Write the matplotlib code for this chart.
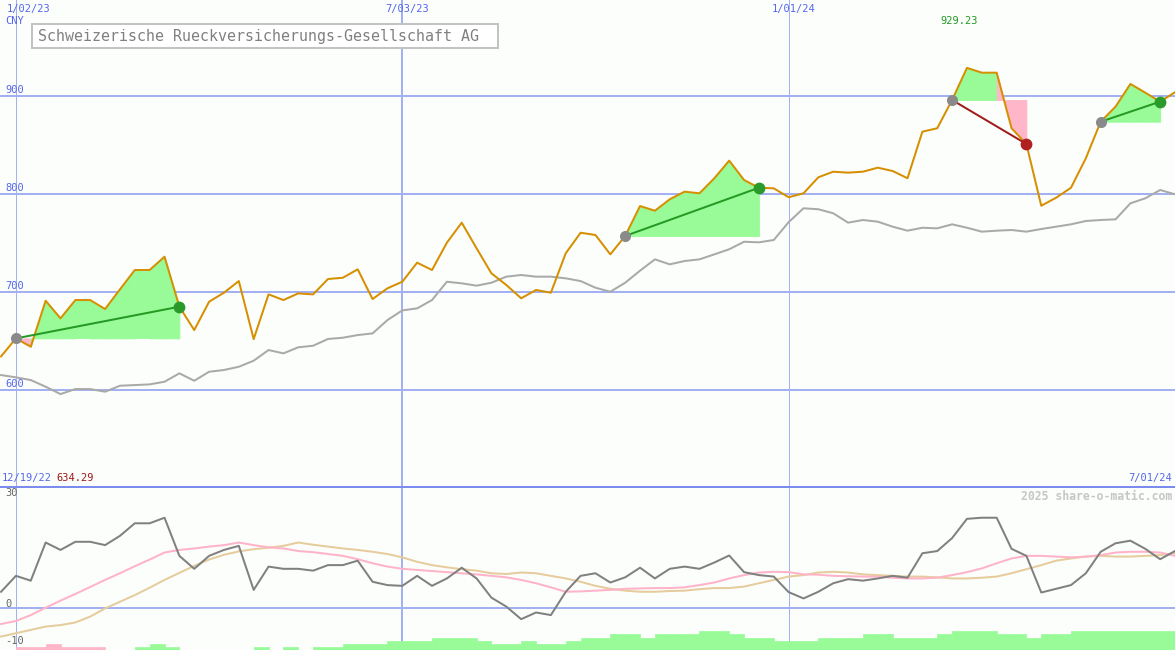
import matplotlib
matplotlib.use('Agg')
import matplotlib.pyplot as plt
import matplotlib.dates as mdates
from matplotlib.patches import Rectangle
import numpy as np
import pandas as pd

# weekly closes
weeks = pd.date_range('2022-12-26', periods=80, freq='7D')

price = [634.29, 652.7, 644.2, 691.2, 673.2, 691.9, 691.9, 682.7, 702.8, 722.6,
         722.6, 736.2, 685.1, 661.2, 690.2, 699.4, 711.3, 652.0, 697.7, 691.9,
         698.7, 697.7, 713.4, 714.7, 723.3, 692.9, 703.9, 710.6, 730.1, 722.6,
         750.5, 771.0, 744.8, 719.2, 707.3, 693.7, 702.2, 699.4, 739.7, 760.7,
         758.4, 738.6, 757.4, 788.0, 783.2, 794.9, 802.7, 801.0, 816.4, 834.4,
         814.6, 806.7, 806.1, 797.0, 801.0, 817.4, 823.1, 822.1, 823.1, 827.2,
         823.8, 816.4, 864.0, 867.5, 896.4, 929.23, 924.3, 924.3, 867.5, 851.4,
         788.3, 796.5, 806.7, 836.8, 874.2, 889.6, 912.8, 903.9, 894.7, 904.3]

bench = [615.2, 612.9, 610.1, 603.3, 595.8, 600.9, 600.9, 598.2, 604.3, 605.0,
         605.7, 608.4, 617.0, 609.4, 618.6, 620.4, 623.7, 629.9, 640.8, 637.4,
         643.6, 645.2, 652.1, 653.4, 656.1, 657.8, 671.4, 681.3, 683.4, 691.9,
         710.6, 709.0, 706.6, 709.6, 715.8, 717.5, 715.8, 715.8, 714.1, 711.3,
         704.5, 700.4, 709.6, 721.9, 733.5, 728.4, 731.8, 733.5, 738.6, 743.8,
         751.5, 750.9, 753.3, 771.5, 785.7, 784.7, 780.6, 771.0, 773.7, 772.0,
         766.9, 762.8, 765.8, 765.2, 769.3, 765.8, 761.8, 762.8, 763.5, 761.8,
         764.5, 766.9, 769.3, 772.7, 773.7, 774.4, 790.8, 795.9, 804.4, 800.0]

osc = [4.3, 8.6, 7.3, 17.6, 15.6, 17.8, 17.8, 16.9, 19.4, 22.8,
       22.8, 24.3, 14.0, 10.5, 14.0, 15.6, 16.7, 4.8, 11.1, 10.5,
       10.5, 10.0, 11.5, 11.5, 12.7, 7.0, 6.1, 5.9, 8.6, 5.9,
       7.9, 10.8, 7.9, 2.7, 0.3, -3.1, -1.3, -2.0, 4.3, 8.6,
       9.3, 6.8, 8.2, 10.8, 7.9, 10.5, 11.1, 10.5, 12.2, 14.1,
       9.6, 8.8, 8.4, 4.2, 2.5, 4.3, 6.6, 7.7, 7.3, 7.9,
       8.6, 8.1, 14.7, 15.3, 18.8, 24.0, 24.3, 24.3, 15.9, 14.0,
       4.1, 5.1, 6.1, 9.3, 15.1, 17.4, 18.1, 15.9, 13.1, 15.3]

osc_fast = [-4.4, -3.6, -2.0, 0.0, 1.9, 3.7, 5.6, 7.5, 9.3, 11.2,
            13.0, 14.9, 15.6, 16.0, 16.5, 16.9, 17.6, 16.9, 16.3, 16.0,
            15.3, 15.0, 14.5, 14.0, 13.1, 12.0, 11.1, 10.5, 10.2, 9.9,
            9.6, 9.3, 9.0, 8.6, 8.2, 7.5, 6.6, 5.5, 4.3, 4.4,
            4.6, 4.8, 5.1, 5.2, 5.3, 5.3, 5.5, 6.1, 6.8, 7.9,
            8.8, 9.5, 9.7, 9.6, 9.0, 8.9, 8.6, 8.5, 8.4, 8.4,
            8.1, 7.9, 7.9, 8.1, 8.8, 9.6, 10.6, 12.0, 13.3, 14.0,
            14.0, 13.8, 13.6, 13.8, 14.2, 14.9, 15.1, 15.1, 14.9, 14.0]

osc_slow = [-7.8, -6.9, -6.0, -5.1, -4.7, -4.0, -2.4, -0.2, 1.6, 3.4,
            5.4, 7.5, 9.4, 11.3, 13.0, 14.3, 15.2, 15.8, 16.2, 16.7,
            17.6, 17.0, 16.5, 16.0, 15.6, 15.1, 14.5, 13.6, 12.4, 11.5,
            10.9, 10.4, 10.0, 9.3, 9.1, 9.5, 9.3, 8.6, 7.9, 7.0,
            5.9, 5.1, 4.6, 4.3, 4.3, 4.5, 4.6, 5.0, 5.3, 5.3,
            5.7, 6.6, 7.5, 8.4, 8.8, 9.5, 9.7, 9.5, 9.0, 8.8,
            8.6, 8.4, 8.4, 8.2, 7.9, 7.9, 8.1, 8.4, 9.3, 10.4,
            11.5, 12.7, 13.3, 13.8, 14.0, 13.8, 13.8, 14.0, 14.2, 14.7]

strength = [0, -1, -1, -2, -1, -1, -1, 0, 0, 1,
            2, 1, 0, 0, 0, 0, 0, 1, 0, 1,
            0, 1, 1, 2, 2, 2, 3, 3, 3, 4,
            4, 4, 3, 2, 2, 3, 2, 2, 3, 4,
            4, 5, 5, 4, 5, 5, 5, 6, 6, 5,
            4, 4, 3, 3, 3, 4, 4, 4, 5, 5,
            4, 4, 4, 5, 6, 6, 6, 5, 5, 4,
            5, 5, 6, 6, 6, 6, 6, 6, 6, 6]

# (entry week, exit week)
trades = [(1, 12), (42, 51), (64, 69), (74, 78)]

grid_dates = pd.to_datetime(['2023-01-02', '2023-07-03', '2024-01-01'])
grid_labels = ['1/02/23', '7/03/23', '1/01/24']
grid_px = [1, 2, 1]
price_ticks = [600, 700, 800, 900]
osc_ticks = [30, 0, -10]

title = 'Schweizerische Rueckversicherungs-Gesellschaft AG'
currency = 'CNY'
start_label = '12/19/22'
end_label = '7/01/24'
credit = '2025 share-o-matic.com'

bg = '#fbfefb'
grid_c = '#a3b1f2'
axis_blue = '#5566ee'
mono = 'DejaVu Sans Mono'
PX = 0.72  # points per pixel at dpi 100

fig = plt.figure(figsize=(11.75, 6.5), dpi=100)
fig.patch.set_facecolor(bg)
split = 163 / 650
ax = fig.add_axes([0, split, 1, 1 - split])
axl = fig.add_axes([0, 0, 1, split], sharex=ax)
for a in (ax, axl):
    a.set_facecolor(bg)
    a.set_xticks([])
    a.set_yticks([])
    for s in a.spines.values():
        s.set_visible(False)

x0 = weeks[0] - pd.Timedelta(hours=12)
ax.set_xlim(x0, weeks[-1])
ax.set_ylim(500.8, 998.6)
axl.set_ylim(-11.43, 32.6)

# price panel
for v in price_ticks:
    ax.axhline(v, color=grid_c, lw=2 * PX, zorder=1)
    ax.annotate(str(v), xy=(0, v), xycoords=('axes fraction', 'data'),
                xytext=(5, 1), textcoords='offset pixels', ha='left', va='bottom',
                color=axis_blue, fontsize=7.5, family=mono)
for d, w in zip(grid_dates, grid_px):
    ax.axvline(d, color=grid_c, lw=w * PX, zorder=1)
    axl.axvline(d, color=grid_c, lw=w * PX, zorder=1)

ax.plot(weeks, bench, color='#a9a9a9', lw=2 * PX, zorder=2)

# gain / loss area of each trade, coloured segment by segment
for i, j in trades:
    entry = price[i]
    for k in range(i, j):
        c = '#98fb98' if price[k + 1] >= entry else '#ffb6c8'
        ax.fill_between(weeks[k:k + 2], price[k:k + 2], entry, facecolor=c,
                        edgecolor=c, lw=0.6, zorder=3)

ax.plot(weeks, price, color='#d68f00', lw=2 * PX, zorder=4)

for i, j in trades:
    win = price[j] >= price[i]
    lc = '#249a24' if win else '#a01c1c'
    ax.plot([weeks[i], weeks[j]], [price[i], price[j]], color=lc, lw=2 * PX, zorder=5)
    ax.plot(weeks[i], price[i], 'o', ms=8, color='#8a8a8a', mec='none', zorder=6)
    ax.plot(weeks[j], price[j], 'o', ms=8.5, color='#2a9a2a' if win else '#b02020',
            mec='none', zorder=6)

# labels on price panel
fig.canvas.draw()
for d, lab in zip(grid_dates, grid_labels):
    px = ax.transData.transform((mdates.date2num(d), 0))[0]
    dx = max(-17, 7 - px)
    ax.annotate(lab, xy=(d, 1), xycoords=('data', 'axes fraction'),
                xytext=(dx, -9), textcoords='offset pixels', ha='left', va='center',
                color=axis_blue, fontsize=7.5, family=mono)
ax.annotate(currency, xy=(0, 1), xycoords='axes fraction', xytext=(5, -21),
            textcoords='offset pixels', ha='left', va='center',
            color=axis_blue, fontsize=7.5, family=mono)

imax = int(np.argmax(price))
ax.annotate(f'{price[imax]:.2f}', xy=(weeks[imax], 1), xycoords=('data', 'axes fraction'),
            xytext=(-8, -21), textcoords='offset pixels', ha='center', va='center',
            color='#229922', fontsize=7.5, family=mono)

ax.annotate(start_label, xy=(0, 0), xycoords='axes fraction', xytext=(2, 9),
            textcoords='offset pixels', ha='left', va='center',
            color=axis_blue, fontsize=7.5, family=mono)
ax.annotate(f'{min(price):.2f}', xy=(0, 0), xycoords='axes fraction', xytext=(56, 9),
            textcoords='offset pixels', ha='left', va='center',
            color='#a01818', fontsize=7.5, family=mono)
ax.annotate(end_label, xy=(1, 0), xycoords='axes fraction', xytext=(-3, 9),
            textcoords='offset pixels', ha='right', va='center',
            color=axis_blue, fontsize=7.5, family=mono)

# title box
box = Rectangle((32 / 1175, 1 - 48.3 / 650), 466 / 1175, 24.3 / 650,
                transform=fig.transFigure, facecolor='white', edgecolor='#c3c3c3',
                lw=2 * PX, zorder=5)
fig.add_artist(box)
fig.text(37.5 / 1175, 1 - 36 / 650, title, ha='left', va='center', fontsize=10.8,
         family=mono, color='#808080', zorder=6)

# oscillator panel
axl.axhline(0, color=grid_c, lw=2 * PX, zorder=1)
axl.spines['top'].set_visible(True)
axl.spines['top'].set_color('#7b8bee')
axl.spines['top'].set_linewidth(2 * PX)
axl.plot(weeks, osc_slow, color='#e6cc9c', lw=2 * PX, zorder=2)
axl.plot(weeks, osc_fast, color='#ffb3c8', lw=2 * PX, zorder=3)
axl.plot(weeks, osc, color='#808080', lw=2 * PX, zorder=4)
for v in osc_ticks:
    axl.annotate(str(v), xy=(0, v), xycoords=('axes fraction', 'data'),
                 xytext=(5, 4), textcoords='offset pixels', ha='left', va='center',
                 color='#666666', fontsize=7.5, family=mono)
axl.annotate(credit, xy=(1, 1), xycoords='axes fraction', xytext=(-3, -9.5),
             textcoords='offset pixels', ha='right', va='center',
             color='#c6c6c6', fontsize=8.3, family=mono, fontweight='bold')

axb = axl.twinx()
axb.set_ylim(0, 52.5)
axb.set_yticks([])
for s in axb.spines.values():
    s.set_visible(False)
bar_colors = ['#98fb98' if s >= 0 else '#ffb6c8' for s in strength]
axb.bar(weeks, np.abs(strength), width=7, align='edge', color=bar_colors,
        edgecolor=bar_colors, lw=0.5)
axb.set_xlim(x0, weeks[-1])

fig.savefig('out.png', dpi=100, facecolor=bg)
